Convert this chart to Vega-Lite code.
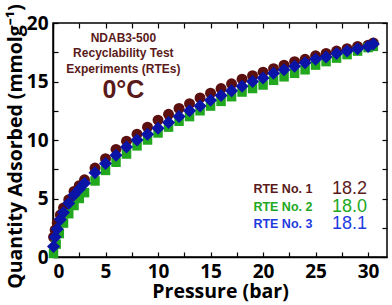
{
  "$schema": "https://vega.github.io/schema/vega-lite/v6.json",
  "width": 334,
  "height": 234,
  "autosize": {"type": "none"},
  "padding": {"left": 53, "top": 23, "right": 5, "bottom": 48},
  "background": "white",
  "config": {
    "view": {"stroke": "black", "strokeWidth": 1.5},
    "axis": {
      "grid": false,
      "domainColor": "black",
      "domainWidth": 1.5,
      "tickColor": "black",
      "tickWidth": 1.2,
      "tickSize": -5,
      "labelFont": "Open Sans",
      "labelFontWeight": "bold",
      "labelFontSize": 19,
      "labelColor": "black",
      "titleFont": "Open Sans",
      "titleFontWeight": "bold",
      "titleFontSize": 19.5,
      "titleColor": "black"
    }
  },
  "datasets": {
    "iso": [
      {"s": "RTE No. 1", "p": 0.05, "q": 1.7}, {"s": "RTE No. 1", "p": 0.2, "q": 2.3}, {"s": "RTE No. 1", "p": 0.4, "q": 2.9}, {"s": "RTE No. 1", "p": 0.7, "q": 3.6}, {"s": "RTE No. 1", "p": 1.0, "q": 4.2}, {"s": "RTE No. 1", "p": 1.5, "q": 4.9}, {"s": "RTE No. 1", "p": 2.0, "q": 5.6}, {"s": "RTE No. 1", "p": 2.5, "q": 6.1}, {"s": "RTE No. 1", "p": 3, "q": 6.6}, {"s": "RTE No. 1", "p": 4, "q": 7.6}, {"s": "RTE No. 1", "p": 5, "q": 8.4}, {"s": "RTE No. 1", "p": 6, "q": 9.2}, {"s": "RTE No. 1", "p": 7, "q": 9.9}, {"s": "RTE No. 1", "p": 8, "q": 10.5}, {"s": "RTE No. 1", "p": 9, "q": 11.1}, {"s": "RTE No. 1", "p": 10, "q": 11.7}, {"s": "RTE No. 1", "p": 11, "q": 12.2}, {"s": "RTE No. 1", "p": 12, "q": 12.7}, {"s": "RTE No. 1", "p": 13, "q": 13.1}, {"s": "RTE No. 1", "p": 14, "q": 13.6}, {"s": "RTE No. 1", "p": 15, "q": 14.0}, {"s": "RTE No. 1", "p": 16, "q": 14.4}, {"s": "RTE No. 1", "p": 17, "q": 14.8}, {"s": "RTE No. 1", "p": 18, "q": 15.2}, {"s": "RTE No. 1", "p": 19, "q": 15.5}, {"s": "RTE No. 1", "p": 20, "q": 15.8}, {"s": "RTE No. 1", "p": 21, "q": 16.1}, {"s": "RTE No. 1", "p": 22, "q": 16.4}, {"s": "RTE No. 1", "p": 23, "q": 16.7}, {"s": "RTE No. 1", "p": 24, "q": 16.9}, {"s": "RTE No. 1", "p": 25, "q": 17.2}, {"s": "RTE No. 1", "p": 26, "q": 17.4}, {"s": "RTE No. 1", "p": 27, "q": 17.6}, {"s": "RTE No. 1", "p": 28, "q": 17.8}, {"s": "RTE No. 1", "p": 29, "q": 18.0}, {"s": "RTE No. 1", "p": 30, "q": 18.1}, {"s": "RTE No. 1", "p": 30.5, "q": 18.3},
      {"s": "RTE No. 2", "p": 0.05, "q": 0.3}, {"s": "RTE No. 2", "p": 0.3, "q": 1.1}, {"s": "RTE No. 2", "p": 0.6, "q": 2.0}, {"s": "RTE No. 2", "p": 1.0, "q": 2.9}, {"s": "RTE No. 2", "p": 1.5, "q": 3.7}, {"s": "RTE No. 2", "p": 2.0, "q": 4.4}, {"s": "RTE No. 2", "p": 2.5, "q": 5.0}, {"s": "RTE No. 2", "p": 3, "q": 5.5}, {"s": "RTE No. 2", "p": 4, "q": 6.5}, {"s": "RTE No. 2", "p": 5, "q": 7.4}, {"s": "RTE No. 2", "p": 6, "q": 8.1}, {"s": "RTE No. 2", "p": 7, "q": 8.8}, {"s": "RTE No. 2", "p": 8, "q": 9.5}, {"s": "RTE No. 2", "p": 9, "q": 10.0}, {"s": "RTE No. 2", "p": 10, "q": 10.6}, {"s": "RTE No. 2", "p": 11, "q": 11.1}, {"s": "RTE No. 2", "p": 12, "q": 11.6}, {"s": "RTE No. 2", "p": 13, "q": 12.0}, {"s": "RTE No. 2", "p": 14, "q": 12.5}, {"s": "RTE No. 2", "p": 15, "q": 12.9}, {"s": "RTE No. 2", "p": 16, "q": 13.3}, {"s": "RTE No. 2", "p": 17, "q": 13.7}, {"s": "RTE No. 2", "p": 18, "q": 14.1}, {"s": "RTE No. 2", "p": 19, "q": 14.4}, {"s": "RTE No. 2", "p": 20, "q": 14.7}, {"s": "RTE No. 2", "p": 21, "q": 15.1}, {"s": "RTE No. 2", "p": 22, "q": 15.4}, {"s": "RTE No. 2", "p": 23, "q": 15.7}, {"s": "RTE No. 2", "p": 24, "q": 16.0}, {"s": "RTE No. 2", "p": 25, "q": 16.4}, {"s": "RTE No. 2", "p": 26, "q": 16.7}, {"s": "RTE No. 2", "p": 27, "q": 17.0}, {"s": "RTE No. 2", "p": 28, "q": 17.3}, {"s": "RTE No. 2", "p": 29, "q": 17.6}, {"s": "RTE No. 2", "p": 30, "q": 17.9}, {"s": "RTE No. 2", "p": 30.5, "q": 18.0},
      {"s": "RTE No. 3", "p": 0.05, "q": 0.9}, {"s": "RTE No. 3", "p": 0.2, "q": 1.7}, {"s": "RTE No. 3", "p": 0.4, "q": 2.4}, {"s": "RTE No. 3", "p": 0.7, "q": 3.2}, {"s": "RTE No. 3", "p": 1.0, "q": 3.8}, {"s": "RTE No. 3", "p": 1.5, "q": 4.6}, {"s": "RTE No. 3", "p": 2.0, "q": 5.3}, {"s": "RTE No. 3", "p": 2.5, "q": 5.8}, {"s": "RTE No. 3", "p": 3, "q": 6.3}, {"s": "RTE No. 3", "p": 4, "q": 7.2}, {"s": "RTE No. 3", "p": 5, "q": 8.0}, {"s": "RTE No. 3", "p": 6, "q": 8.7}, {"s": "RTE No. 3", "p": 7, "q": 9.4}, {"s": "RTE No. 3", "p": 8, "q": 10.0}, {"s": "RTE No. 3", "p": 9, "q": 10.5}, {"s": "RTE No. 3", "p": 10, "q": 11.0}, {"s": "RTE No. 3", "p": 11, "q": 11.5}, {"s": "RTE No. 3", "p": 12, "q": 12.0}, {"s": "RTE No. 3", "p": 13, "q": 12.5}, {"s": "RTE No. 3", "p": 14, "q": 12.9}, {"s": "RTE No. 3", "p": 15, "q": 13.4}, {"s": "RTE No. 3", "p": 16, "q": 13.8}, {"s": "RTE No. 3", "p": 17, "q": 14.2}, {"s": "RTE No. 3", "p": 18, "q": 14.6}, {"s": "RTE No. 3", "p": 19, "q": 15.0}, {"s": "RTE No. 3", "p": 20, "q": 15.3}, {"s": "RTE No. 3", "p": 21, "q": 15.7}, {"s": "RTE No. 3", "p": 22, "q": 16.0}, {"s": "RTE No. 3", "p": 23, "q": 16.3}, {"s": "RTE No. 3", "p": 24, "q": 16.6}, {"s": "RTE No. 3", "p": 25, "q": 16.9}, {"s": "RTE No. 3", "p": 26, "q": 17.1}, {"s": "RTE No. 3", "p": 27, "q": 17.4}, {"s": "RTE No. 3", "p": 28, "q": 17.6}, {"s": "RTE No. 3", "p": 29, "q": 17.8}, {"s": "RTE No. 3", "p": 30, "q": 18.0}, {"s": "RTE No. 3", "p": 30.5, "q": 18.2}
    ],
    "notes": [
      {"t": "NDAB3-500", "x": 6.7, "y": 18.7},
      {"t": "Recyclability Test", "x": 6.7, "y": 17.4},
      {"t": "Experiments (RTEs)", "x": 6.7, "y": 16.1}
    ],
    "temp": [{"t": "0°C", "x": 6.7, "y": 14.3}],
    "leg": [
      {"s": "RTE No. 1", "v": "18.2", "xl": 24.7, "xv": 29.9, "y": 5.8},
      {"s": "RTE No. 2", "v": "18.0", "xl": 24.7, "xv": 29.9, "y": 4.3},
      {"s": "RTE No. 3", "v": "18.1", "xl": 24.7, "xv": 29.9, "y": 2.8}
    ]
  },
  "layer": [
    {
      "data": {"name": "iso"},
      "mark": {"type": "point", "filled": true, "opacity": 1},
      "encoding": {
        "x": {
          "field": "p", "type": "quantitative",
          "scale": {"domain": [0, 31.8], "nice": false},
          "axis": {
            "orient": "bottom", "title": "Pressure (bar)",
            "values": [0, 2.5, 5, 7.5, 10, 12.5, 15, 17.5, 20, 22.5, 25, 27.5, 30],
            "labelExpr": "datum.value % 5 === 0 ? datum.label : ''",
            "labelPadding": 10, "titlePadding": 1
          }
        },
        "y": {
          "field": "q", "type": "quantitative",
          "scale": {"domain": [0, 20], "nice": false},
          "axis": {
            "orient": "left", "title": "Quantity Adsorbed (mmolg⁻¹)",
            "values": [0, 2.5, 5, 7.5, 10, 12.5, 15, 17.5, 20],
            "labelExpr": "datum.value % 5 === 0 ? datum.label : ''",
            "labelPadding": 10, "titlePadding": 1, "titleY": 123
          }
        },
        "color": {
          "field": "s", "type": "nominal", "legend": null,
          "scale": {"domain": ["RTE No. 1", "RTE No. 2", "RTE No. 3"], "range": ["#5b0f0f", "#22a81e", "#0a14a6"]}
        },
        "shape": {
          "field": "s", "type": "nominal", "legend": null,
          "scale": {"domain": ["RTE No. 1", "RTE No. 2", "RTE No. 3"], "range": ["circle", "square", "diamond"]}
        },
        "size": {
          "field": "s", "type": "nominal", "legend": null,
          "scale": {"type": "ordinal", "domain": ["RTE No. 1", "RTE No. 2", "RTE No. 3"], "range": [120, 90, 170]}
        }
      }
    },
    {
      "data": {"name": "iso"},
      "mark": {"type": "point", "opacity": 0},
      "encoding": {
        "x": {
          "field": "p", "type": "quantitative",
          "axis": {"orient": "top", "title": null, "labels": false, "domain": false,
                   "values": [0, 2.5, 5, 7.5, 10, 12.5, 15, 17.5, 20, 22.5, 25, 27.5, 30]}
        },
        "y": {
          "field": "q", "type": "quantitative",
          "axis": {"orient": "right", "title": null, "labels": false, "domain": false,
                   "values": [0, 2.5, 5, 7.5, 10, 12.5, 15, 17.5, 20]}
        }
      }
    },
    {
      "data": {"name": "notes"},
      "mark": {"type": "text", "font": "Liberation Sans", "fontWeight": "bold", "fontSize": 12, "color": "#5a1a1a", "align": "center", "baseline": "middle"},
      "encoding": {
        "x": {"field": "x", "type": "quantitative", "axis": null},
        "y": {"field": "y", "type": "quantitative", "axis": null},
        "text": {"field": "t"}
      }
    },
    {
      "data": {"name": "temp"},
      "mark": {"type": "text", "font": "Liberation Sans", "fontWeight": "bold", "fontSize": 25, "color": "#5a1a1a", "align": "center", "baseline": "middle"},
      "encoding": {
        "x": {"field": "x", "type": "quantitative", "axis": null},
        "y": {"field": "y", "type": "quantitative", "axis": null},
        "text": {"field": "t"}
      }
    },
    {
      "data": {"name": "leg"},
      "mark": {"type": "text", "font": "Liberation Sans", "fontWeight": "bold", "fontSize": 12.5, "align": "right", "baseline": "middle"},
      "encoding": {
        "x": {"field": "xl", "type": "quantitative", "axis": null},
        "y": {"field": "y", "type": "quantitative", "axis": null},
        "text": {"field": "s"},
        "color": {"field": "s", "type": "nominal", "legend": null,
                  "scale": {"domain": ["RTE No. 1", "RTE No. 2", "RTE No. 3"], "range": ["#5a1a1a", "#22a822", "#1f3be0"]}}
      }
    },
    {
      "data": {"name": "leg"},
      "mark": {"type": "text", "font": "Liberation Sans", "fontSize": 18, "align": "right", "baseline": "middle"},
      "encoding": {
        "x": {"field": "xv", "type": "quantitative", "axis": null},
        "y": {"field": "y", "type": "quantitative", "axis": null},
        "text": {"field": "v"},
        "color": {"field": "s", "type": "nominal", "legend": null,
                  "scale": {"domain": ["RTE No. 1", "RTE No. 2", "RTE No. 3"], "range": ["#5a1a1a", "#22a822", "#1f3be0"]}}
      }
    }
  ],
  "resolve": {"axis": {"x": "independent", "y": "independent"}, "scale": {"color": "independent"}}
}
